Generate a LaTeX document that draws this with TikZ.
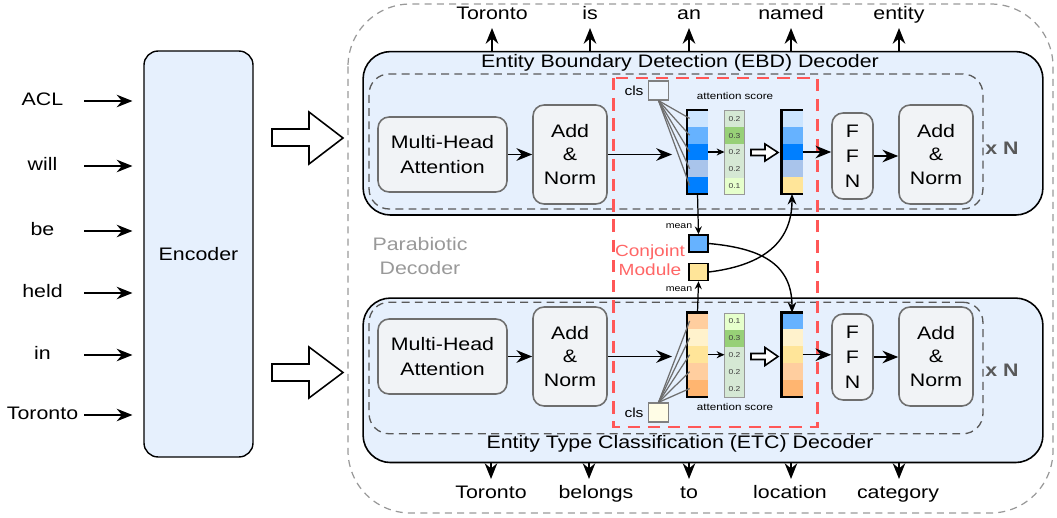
\documentclass[tikz,border=0pt]{standalone}
\usepackage{fontspec}
\setmainfont{Liberation Sans}[FakeStretch=1.18]
\usetikzlibrary{arrows.meta}

\definecolor{paneblue}{HTML}{E6F0FD}
\definecolor{boxgray}{HTML}{F1F3F6}
\definecolor{edgegray}{HTML}{6E6E6E}
\definecolor{conj}{HTML}{FF5757}
\definecolor{conjtext}{HTML}{FF6666}
\definecolor{bA}{HTML}{CCE5FF}
\definecolor{bB}{HTML}{66B2FF}
\definecolor{bC}{HTML}{007FFF}
\definecolor{bD}{HTML}{A9C4EB}
\definecolor{yA}{HTML}{FFCE9F}
\definecolor{yB}{HTML}{FFF2CC}
\definecolor{yC}{HTML}{FFE599}
\definecolor{yD}{HTML}{FFB570}
\definecolor{gA}{HTML}{D5E8D4}
\definecolor{gB}{HTML}{97D077}
\definecolor{gC}{HTML}{E6FFCC}
\definecolor{clsblue}{HTML}{EEF5FE}
\definecolor{clsyellow}{HTML}{FFFDE6}

\newcommand\fsz[2]{\fontsize{#1}{#2}\selectfont}

\begin{document}
\begin{tikzpicture}[x=0.02cm, y=-0.02cm, font=\fsz{10.3}{13.6},
  arr/.style={draw, line width=0.8pt, -{Stealth[length=9pt,width=7.2pt,inset=3pt]}},
  sarr/.style={draw, line width=0.7pt, -{Stealth[length=4.5pt,width=4pt,inset=1.5pt]}},
  marr/.style={draw, line width=0.8pt, -{Stealth[length=6pt,width=5pt,inset=2pt]}},
  panel/.style={draw=black, line width=0.9pt, fill=paneblue, rounded corners=0.55cm,
    minimum width=13.6cm, inner sep=0},
  stack/.style={draw=black!65, dash pattern=on 4.5pt off 3pt, line width=0.75pt,
    rounded corners=0.4cm, minimum width=12.28cm, inner sep=0},
  blk/.style={draw=edgegray, fill=boxgray, line width=0.9pt, rounded corners=0.22cm,
    align=center, inner sep=0},
  cell/.style={minimum width=0.42cm, minimum height=0.336cm, inner sep=0, outer sep=0},
  score/.style={minimum width=0.4cm, minimum height=0.336cm, inner sep=0, outer sep=0,
    font=\fsz{4.1}{4.5}, text=black!75},
  word/.style={inner sep=0pt, text height=7.6pt, text depth=2.2pt},
  meanbox/.style={draw=black, line width=0.8pt, minimum width=0.38cm, minimum height=0.34cm, inner sep=0},
  clsbox/.style={draw=gray, line width=1pt, minimum width=0.4cm, minimum height=0.37cm, inner sep=0},
  coledge/.style={draw=black, line width=1.5pt},
  clsline/.style={draw=edgegray, line width=0.7pt},
  hollow/.style={draw=black, line width=0.9pt, fill=white, line join=miter},
  small/.style={inner sep=0, font=\fsz{5.6}{6.5}},
  tiny/.style={inner sep=0, font=\fsz{5.1}{6}},
  rep/.style={inner sep=0, font=\bfseries\fsz{10.3}{12}, text=black!65}
]
\useasboundingbox (0,0) rectangle (1057,517);

% outer frame of the parabiotic decoder
\draw[black!40, line width=0.7pt, dash pattern=on 4pt off 3pt, rounded corners=1.25cm]
  (348,4) rectangle (1053,513);

% encoder and its inputs
\node[draw=black, line width=0.8pt, fill=paneblue, rounded corners=0.28cm,
  minimum width=2.18cm, minimum height=8.12cm] (enc) at (198.5,254) {Encoder};

\foreach \w/\yy [count=\i] in {ACL/101, will/166, be/231, held/293, in/355, Toronto/415} {
  \node[word] (in\i) at (42.5,\yy) {\w};
  \coordinate (s\i) at (84,\yy);
  \draw[arr, shorten >=6.2pt] (s\i) -- (s\i -| enc.west);
}

% block arrows from the encoder into both decoders
\draw[hollow] (272,129) -- (309,129) -- (309,112) -- (343,138) -- (309,164) -- (309,146) -- (272,146) -- cycle;
\draw[hollow] (272,364) -- (309,364) -- (309,347) -- (343,372.5) -- (309,398) -- (309,381) -- (272,381) -- cycle;

% decoder panels
\node[panel, minimum height=3.27cm] (ebd) at (703,133.3) {};
\node[panel, minimum height=3.29cm] (etc) at (703,380.3) {};
\node[stack, minimum height=2.7cm] (ebdstack) at (676,141.5) {};
\node[stack, minimum height=2.63cm] (etcstack) at (676,368) {};
\node[inner sep=0] (ebdlabel) at (680,63) {Entity Boundary Detection (EBD) Decoder};
\node[inner sep=0] (etclabel) at (680,444) {Entity Type Classification (ETC) Decoder};

\node[align=center, text=black!40, inner sep=0, font=\fsz{10.3}{14}] (para) at (420,256) {Parabiotic\\Decoder};

% conjoint module frame
\draw[conj, line width=1.7pt, dash pattern=on 7pt off 4.5pt] (613,78) rectangle (817,427);
\node[align=center, text=conjtext, inner sep=0, font=\fsz{9.2}{11}] (conjlabel) at (650,260.5) {Conjoint\\Module};

% ---- EBD decoder layer ----
\node[blk, minimum width=2.58cm, minimum height=1.5cm, font=\fsz{10.3}{14.2}] (mhaT) at (442.5,154.5) {Multi-Head\\Attention};
\node[blk, minimum width=1.48cm, minimum height=1.98cm] (anT) at (570,154.5) {Add\\\&\\Norm};
\node[blk, minimum width=0.82cm, minimum height=1.72cm, font=\fsz{10.3}{14.2}] (ffnT) at (852.5,156) {F\\F\\N};
\node[blk, minimum width=1.48cm, minimum height=1.98cm] (an2T) at (936,154.5) {Add\\\&\\Norm};
\node[rep] (repT) at (1002,148) {x N};

\node[clsbox, fill=clsblue] (clsT) at (658.5,90.5) {};
\node[inner sep=0, font=\fsz{7.5}{9}] (clsTl) at (634,91) {cls};
\node[small] (attT) at (735,96) {attention score};

\foreach \c [count=\i] in {bA,bB,bC,bD,bC}
  \node[cell, fill=\c] (ta\i) at (697.5,{110+(\i-0.5)*16.8}) {};
\foreach \c/\v [count=\i] in {gA/0.2,gB/0.3,gA/0.2,gA/0.2,gC/0.1}
  \node[score, fill=\c] (sa\i) at (734.5,{110.5+(\i-0.5)*16.8}) {\v};
\foreach \c [count=\i] in {bA,bB,bC,bD,yC}
  \node[cell, fill=\c] (ta\i o) at (792,{110+(\i-0.5)*16.8}) {};
\draw[black!40, line width=0.5pt] (sa1.north west) rectangle (sa5.south east);
\draw[coledge] (ta1.north east) -- (ta1.north west) -- (ta5.south west) -- (ta5.south east);
\draw[coledge] (ta1o.north east) -- (ta1o.north west) -- (ta5o.south west) -- (ta5o.south east);
\foreach \i in {1,...,5}
  \draw[clsline] (clsT.south) -- ([xshift=1.5pt]ta\i.west);

\draw[hollow] (751,149.5) -- (765,149.5) -- (765,144) -- (778,152.5) -- (765,161) -- (765,155.5) -- (751,155.5) -- cycle;

\draw[arr] (mhaT.east) -- (anT.west);
\coordinate (qT) at (672,154.5);
\draw[arr] (anT.east) -- (qT);
\draw[sarr] (ta3.east) -- (ta3.east -| sa3.west);
\draw[arr] (ta3o.east) -- (ta3o.east -| ffnT.west);
\draw[arr] (ffnT.east) -- (ffnT.east -| an2T.west);

% ---- ETC decoder layer ----
\node[blk, minimum width=2.58cm, minimum height=1.5cm, font=\fsz{10.3}{14.2}] (mhaB) at (442.5,356.5) {Multi-Head\\Attention};
\node[blk, minimum width=1.48cm, minimum height=1.98cm] (anB) at (570,356.5) {Add\\\&\\Norm};
\node[blk, minimum width=0.82cm, minimum height=1.72cm, font=\fsz{10.3}{14.2}] (ffnB) at (852.5,357) {F\\F\\N};
\node[blk, minimum width=1.48cm, minimum height=1.98cm] (an2B) at (936,356.5) {Add\\\&\\Norm};
\node[rep] (repB) at (1002,370) {x N};

\node[clsbox, fill=clsyellow] (clsB) at (658.5,412.5) {};
\node[inner sep=0, font=\fsz{7.5}{9}] (clsBl) at (634,413) {cls};
\node[small] (attB) at (735,407) {attention score};

\foreach \c [count=\i] in {yA,yB,yC,yA,yD}
  \node[cell, fill=\c] (ba\i) at (697.5,{312.5+(\i-0.5)*16.9}) {};
\foreach \c/\v [count=\i] in {gC/0.1,gB/0.3,gA/0.2,gA/0.2,gA/0.2}
  \node[score, fill=\c] (sb\i) at (734.5,{313+(\i-0.5)*16.8}) {\v};
\foreach \c [count=\i] in {bB,yB,yC,yA,yD}
  \node[cell, fill=\c] (ba\i o) at (792,{312.5+(\i-0.5)*16.9}) {};
\draw[black!40, line width=0.5pt] (sb1.north west) rectangle (sb5.south east);
\draw[coledge] (ba1.north east) -- (ba1.north west) -- (ba5.south west) -- (ba5.south east);
\draw[coledge] (ba1o.north east) -- (ba1o.north west) -- (ba5o.south west) -- (ba5o.south east);
\foreach \i in {1,...,5}
  \draw[clsline] (clsB.north) -- ([xshift=1.5pt]ba\i.west);

\draw[hollow] (751,353.5) -- (765,353.5) -- (765,347.5) -- (778,356.5) -- (765,365.5) -- (765,359.5) -- (751,359.5) -- cycle;

\draw[arr] (mhaB.east) -- (anB.west);
\coordinate (qB) at (672,356.5);
\draw[arr] (anB.east) -- (qB);
\draw[sarr] (ba3.east) -- (ba3.east -| sb3.west);
\draw[arr] (ba3o.east) -- (ba3o.east -| ffnB.west);
\draw[arr] (ffnB.east) -- (ffnB.east -| an2B.west);

% ---- conjoint exchange of pooled vectors ----
\node[meanbox, fill=bB] (mB) at (698.5,243.5) {};
\node[meanbox, fill=yC] (mY) at (698.5,272) {};
\node[tiny] (mBl) at (679,226) {mean};
\node[tiny] (mYl) at (679,289) {mean};
\draw[sarr] (ta5.south) -- (mB.north);
\draw[sarr] (ba1.north) -- (mY.south);
\draw[marr] (mB.east) .. controls (758,248) and (792,262) .. (ba1o.north);
\draw[marr] (mY.east) .. controls (758,266) and (792,246) .. (ta5o.south);

% ---- output sequences ----
\foreach \w/\xx [count=\i] in {Toronto/492, is/590, an/689, named/791, entity/899} {
  \node[word] (o\i) at (\xx,15) {\w};
  \coordinate (t\i) at (\xx,28);
  \draw[arr] (ebd.north -| t\i) -- (t\i);
}
\foreach \w/\xx/\ax [count=\i] in {Toronto/491/491, belongs/596/589, to/689/689, location/790/791, category/898/899} {
  \node[word] (u\i) at (\xx,494) {\w};
  \coordinate (d\i) at (\ax,479);
  \draw[arr] (etc.south -| d\i) -- (d\i);
}
\end{tikzpicture}
\end{document}
